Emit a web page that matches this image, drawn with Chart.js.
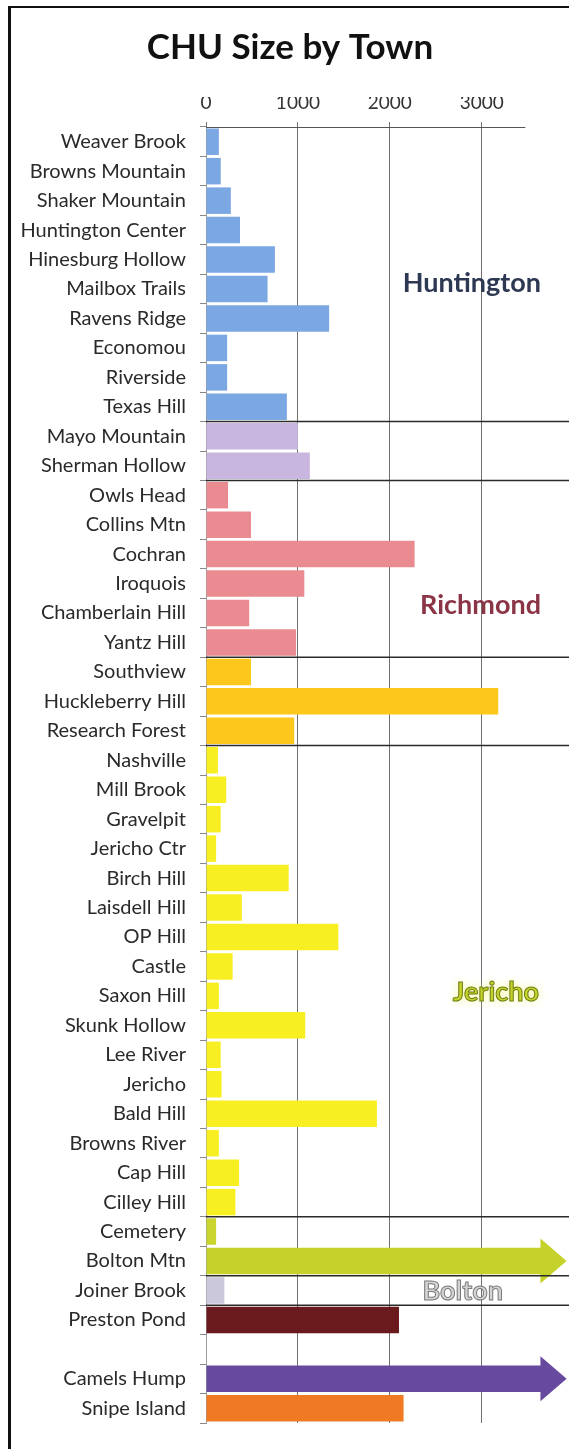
<!DOCTYPE html>
<html>
<head>
<meta charset="utf-8">
<script src="https://cdn.jsdelivr.net/npm/chart.js@4.4.1/dist/chart.umd.min.js"></script>
<style>
  html, body { margin: 0; padding: 0; background: #fff; overflow: hidden; }
  #wrap { position: relative; width: 569px; height: 1449px; }
  #frame { position: absolute; left: 8px; top: 6px; width: 600px; height: 1500px;
           border-left: 3px solid #111; border-top: 2px solid #111; box-sizing: border-box; }
  canvas { position: absolute; left: 0; top: 0; }
</style>
</head>
<body>
<div id="wrap">
  <div id="frame"></div>
  <canvas id="c" width="569" height="1449"></canvas>
</div>
<script>
// ---- data ----
const huntingtonSites = ['Weaver Brook','Browns Mountain','Shaker Mountain','Huntington Center','Hinesburg Hollow','Mailbox Trails','Ravens Ridge','Economou','Riverside','Texas Hill'];
const huntingtonValues = [140, 160, 270, 370, 750, 670, 1340, 230, 230, 880];
const sharedSites = ['Mayo Mountain','Sherman Hollow'];
const sharedValues = [1000, 1130];
const richmondSites = ['Owls Head','Collins Mtn','Cochran','Iroquois','Chamberlain Hill','Yantz Hill'];
const richmondValues = [240, 490, 2270, 1070, 470, 980];
const goldSites = ['Southview','Huckleberry Hill','Research Forest'];
const goldValues = [490, 3180, 960];
const jerichoSites = ['Nashville','Mill Brook','Gravelpit','Jericho Ctr','Birch Hill','Laisdell Hill','OP Hill','Castle','Saxon Hill','Skunk Hollow','Lee River','Jericho','Bald Hill','Browns River','Cap Hill','Cilley Hill'];
const jerichoValues = [130, 220, 160, 110, 900, 390, 1440, 290, 140, 1080, 160, 170, 1860, 140, 360, 320];
const boltonSites = ['Cemetery','Bolton Mtn'];
const boltonValues = [110, 3650];
const joinerSites = ['Joiner Brook'];
const joinerValues = [200];
const otherSites = ['Preston Pond','','Camels Hump','Snipe Island'];
const otherValues = [2100, null, 3650, 2150];
const xTickValues = [0, 1000, 2000, 3000];
const arrowSites = ['Bolton Mtn','Camels Hump'];

// ---- styles ----
const groupSites = [huntingtonSites, sharedSites, richmondSites, goldSites, jerichoSites, boltonSites, joinerSites, otherSites];
const groupValues = [huntingtonValues, sharedValues, richmondValues, goldValues, jerichoValues, boltonValues, joinerValues, otherValues];
const groupColors = [
  ['#7ba7e2'], ['#c9b6de'], ['#e98b90'], ['#fec71c'], ['#f8ef22'],
  ['#c9d52e','#c6d22c'], ['#cbc8dc'], ['#6a1a1c','#ffffff','#674a9e','#f07a24']
];

const labels = [].concat(...groupSites);
const values = [].concat(...groupValues);
const colors = [];
groupSites.forEach((g, gi) => g.forEach((s, i) => {
  const c = groupColors[gi];
  colors.push(c.length > 1 ? c[i] : c[0]);
}));
// separator positions: after each group except the last
const separators = [];
{ let n = 0; for (let gi = 0; gi < groupSites.length - 1; gi++) { n += groupSites[gi].length; separators.push(n); } }

const FONT = 'Lato, "Open Sans", sans-serif';

const overlay = {
  id: 'overlay',
  afterDatasetsDraw(chart) {
    const { ctx, chartArea, scales } = chart;
    const xs = scales.x, ys = scales.y;
    // arrowheads
    const meta = chart.getDatasetMeta(0);
    arrowSites.forEach(name => {
      const i = labels.indexOf(name);
      const el = meta.data[i];
      const h = el.height;
      ctx.save();
      ctx.fillStyle = colors[i];
      ctx.beginPath();
      ctx.moveTo(el.x - 1, el.y - h * 0.85);
      ctx.lineTo(el.x + h * 0.95, el.y);
      ctx.lineTo(el.x - 1, el.y + h * 0.85);
      ctx.closePath();
      ctx.fill();
      ctx.restore();
    });
    // group separators
    ctx.save();
    ctx.strokeStyle = '#2a2a2a';
    ctx.lineWidth = 1.4;
    separators.forEach(n => {
      const y = (ys.getPixelForValue(n - 1) + ys.getPixelForValue(n)) / 2;
      ctx.beginPath();
      ctx.moveTo(chartArea.left, y);
      ctx.lineTo(chart.width, y);
      ctx.stroke();
    });
    ctx.restore();
    // top axis line
    ctx.save();
    ctx.strokeStyle = '#555';
    ctx.lineWidth = 1;
    ctx.beginPath();
    ctx.moveTo(xs.getPixelForValue(0), chartArea.top + 0.5);
    ctx.lineTo(xs.getPixelForValue(3475), chartArea.top + 0.5);
    ctx.stroke();
    ctx.restore();
    // town names
    const townText = (txt, site, rx, dy, fill, stroke, glow) => {
      const y = ys.getPixelForValue(labels.indexOf(site)) + dy;
      ctx.save();
      ctx.font = 'bold 27px ' + FONT;
      ctx.textAlign = 'right';
      ctx.textBaseline = 'middle';
      if (glow) { ctx.shadowColor = glow; ctx.shadowBlur = 8; }
      ctx.fillStyle = fill;
      ctx.fillText(txt, rx, y);
      ctx.shadowBlur = 0;
      if (stroke) { ctx.strokeStyle = stroke; ctx.lineWidth = 1; ctx.strokeText(txt, rx, y); }
      ctx.restore();
    };
    const r = chartArea.right;
    townText('Huntington', 'Mailbox Trails', r - 28, -6, '#2d3853', null, null);
    townText('Richmond', 'Chamberlain Hill', r - 28, -8, '#8a3446', null, null);
    townText('Jericho', 'Saxon Hill', r - 30, -4, '#c3d22c', '#6f7d12', 'rgba(240,245,120,0.9)');
    townText('Bolton', 'Joiner Brook', r - 66, 1, '#d4d4d4', '#7a7a7a', null);
    // title
    ctx.save();
    ctx.font = 'bold 35px ' + FONT;
    ctx.fillStyle = '#111';
    ctx.textAlign = 'center';
    ctx.textBaseline = 'middle';
    ctx.fillText('CHU Size by Town', 290, 48);
    ctx.restore();
  }
};

new Chart(document.getElementById('c'), {
  type: 'bar',
  data: {
    labels: labels,
    datasets: [{
      data: values,
      backgroundColor: colors,
      borderWidth: 0,
      barPercentage: 0.9,
      categoryPercentage: 1.0
    }]
  },
  options: {
    indexAxis: 'y',
    responsive: false,
    animation: false,
    devicePixelRatio: 1,
    layout: { padding: { top: 97, right: 0, bottom: 25, left: 0 } },
    plugins: { legend: { display: false }, tooltip: { enabled: false }, title: { display: false } },
    scales: {
      x: {
        position: 'top',
        min: 0,
        max: 3950,
        afterBuildTicks: s => { s.ticks = xTickValues.map(v => ({ value: v })); },
        afterFit: s => { s.height = 30; },
        border: { display: false },
        grid: { color: '#707070', lineWidth: 1, tickLength: 5, drawTicks: true },
        ticks: { font: { family: FONT, size: 19 }, color: '#333', padding: 8, maxRotation: 0,
                 callback: v => String(v) }
      },
      y: {
        afterFit: s => { s.width = 206; },
        border: { display: true, color: '#9a9a9a', width: 1 },
        grid: { drawOnChartArea: false, offset: true, tickLength: 6, color: '#888' },
        ticks: { font: { family: FONT, size: 20 }, color: '#2a2a2a', padding: 14, autoSkip: false }
      }
    }
  },
  plugins: [overlay]
});
</script>
</body>
</html>
